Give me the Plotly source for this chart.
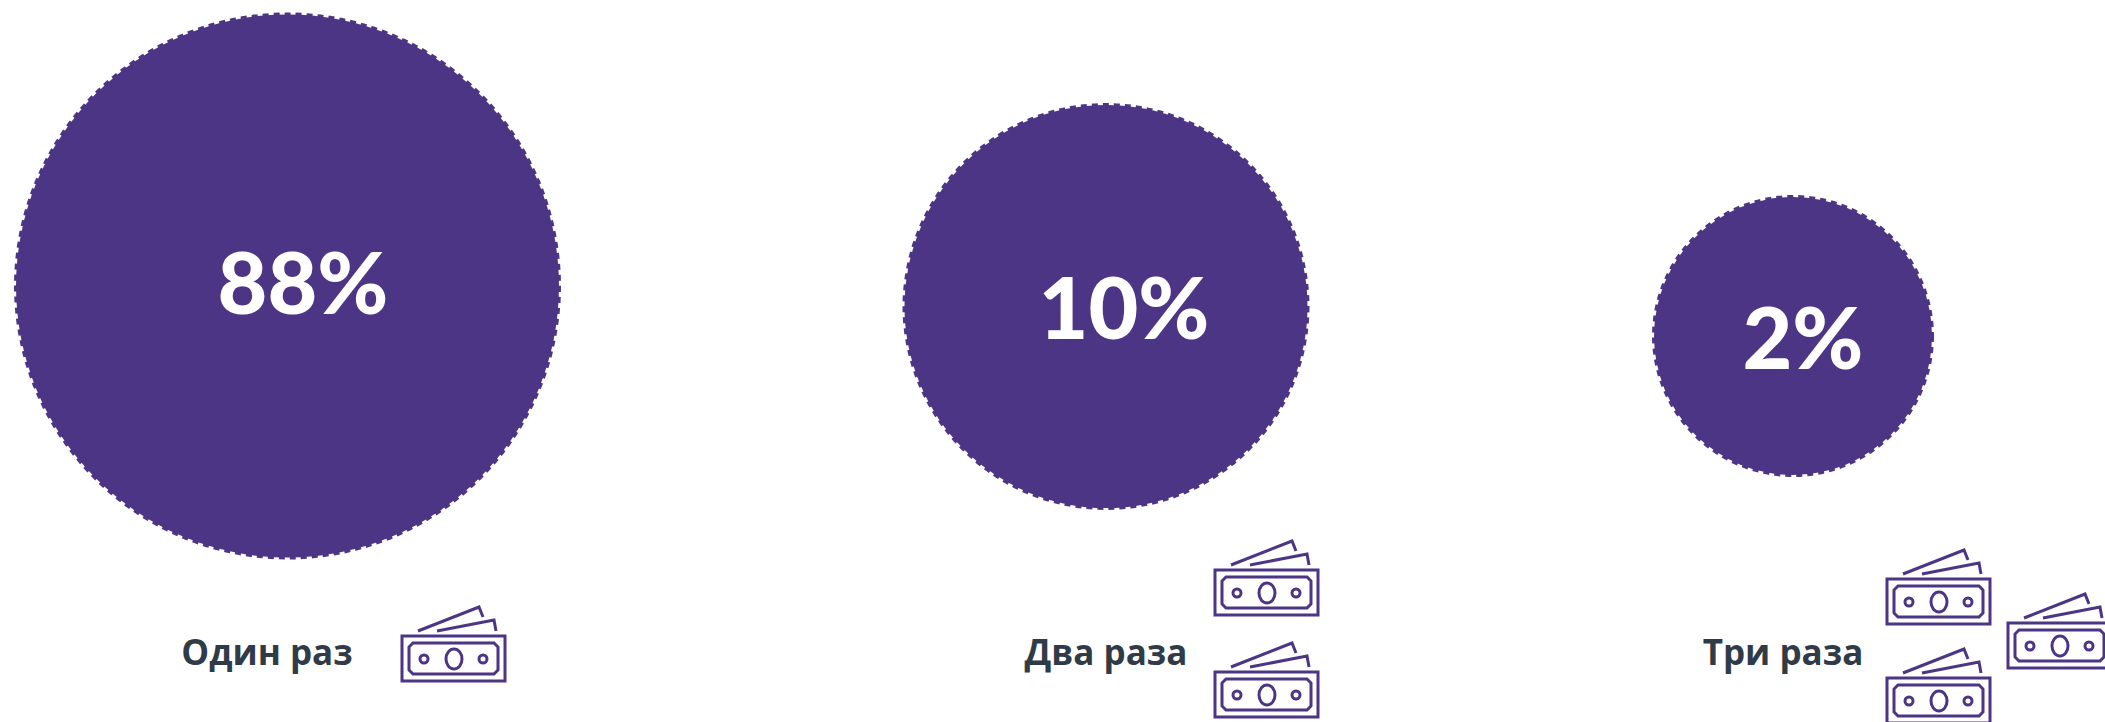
import plotly.graph_objects as go

# data
categories = ["Один раз", "Два раза", "Три раза"]
shares = [88, 10, 2]

# canvas geometry (pixels)
W, H = 2105, 722
PURPLE = "#4d3585"
INK = "#2f3b47"
circle_cx = [287.5, 1106, 1793]
circle_cy = [286, 306.5, 336]
circle_r = [271.5, 201.5, 139]
share_x = [303, 1124, 1803]
share_y = [292, 317, 347]
share_size = [86, 86, 86]
label_x = [267, 1106, 1783]
label_y = [656, 656, 656]
# top-left corners of the banknote icons, per category
icons = [
    [(402, 636)],
    [(1215, 570), (1215, 672)],
    [(1887, 579), (1887, 678), (2008, 623)],
]

shapes = []
for cx, cy, r in zip(circle_cx, circle_cy, circle_r):
    shapes.append(dict(type="circle", xref="x", yref="y", x0=cx - r, x1=cx + r, y0=cy - r, y1=cy + r,
                       fillcolor=PURPLE, line=dict(color=PURPLE, width=4, dash="6px,5px"), layer="below"))


def banknote(x, y):
    line = dict(color=PURPLE, width=3)
    out = [dict(type="rect", x0=x, x1=x + 103, y0=y, y1=y + 45, line=line)]
    c = 4
    a, b, t, u = x + 7, x + 96, y + 7, y + 38
    out.append(dict(type="path", line=line,
                    path=f"M{a+c},{t} L{b-c},{t} L{b},{t+c} L{b},{u-c} L{b-c},{u} L{a+c},{u} L{a},{u-c} L{a},{t+c} Z"))
    for dx, rx, ry in [(22, 4, 4), (81, 4, 4), (52, 8, 10)]:
        out.append(dict(type="circle", x0=x + dx - rx, x1=x + dx + rx, y0=y + 23 - ry, y1=y + 23 + ry, line=line))
    out.append(dict(type="path", line=line, path=f"M{x+16},{y-5} L{x+77},{y-29} L{x+81},{y-19}"))
    out.append(dict(type="path", line=line, path=f"M{x+35},{y-5} L{x+92},{y-16} L{x+94},{y-5}"))
    for s in out:
        s.update(xref="x", yref="y", layer="above")
    return out


for group in icons:
    for x, y in group:
        shapes.extend(banknote(x, y))

fig = go.Figure()
fig.add_trace(go.Scatter(
    x=share_x, y=share_y, mode="text", text=[f"{v}%" for v in shares],
    textposition="middle center", cliponaxis=False, hoverinfo="skip",
    textfont=dict(family="Lato", size=share_size, color="white", weight=900),
))
fig.add_trace(go.Scatter(
    x=label_x, y=label_y, mode="text", text=categories,
    textposition="middle center", hoverinfo="skip",
    textfont=dict(family="Open Sans", size=35, color=INK, weight="bold"),
))
fig.update_layout(
    width=W, height=H, margin=dict(l=0, r=0, t=0, b=0), showlegend=False,
    paper_bgcolor="white", plot_bgcolor="white", shapes=shapes,
    xaxis=dict(range=[0, W], visible=False, fixedrange=True),
    yaxis=dict(range=[H, 0], visible=False, fixedrange=True),
)
fig.write_html("out.html", config={"displayModeBar": False},
               default_width=f"{W}px", default_height=f"{H}px",
               post_script="document.body.style.margin='0';")
